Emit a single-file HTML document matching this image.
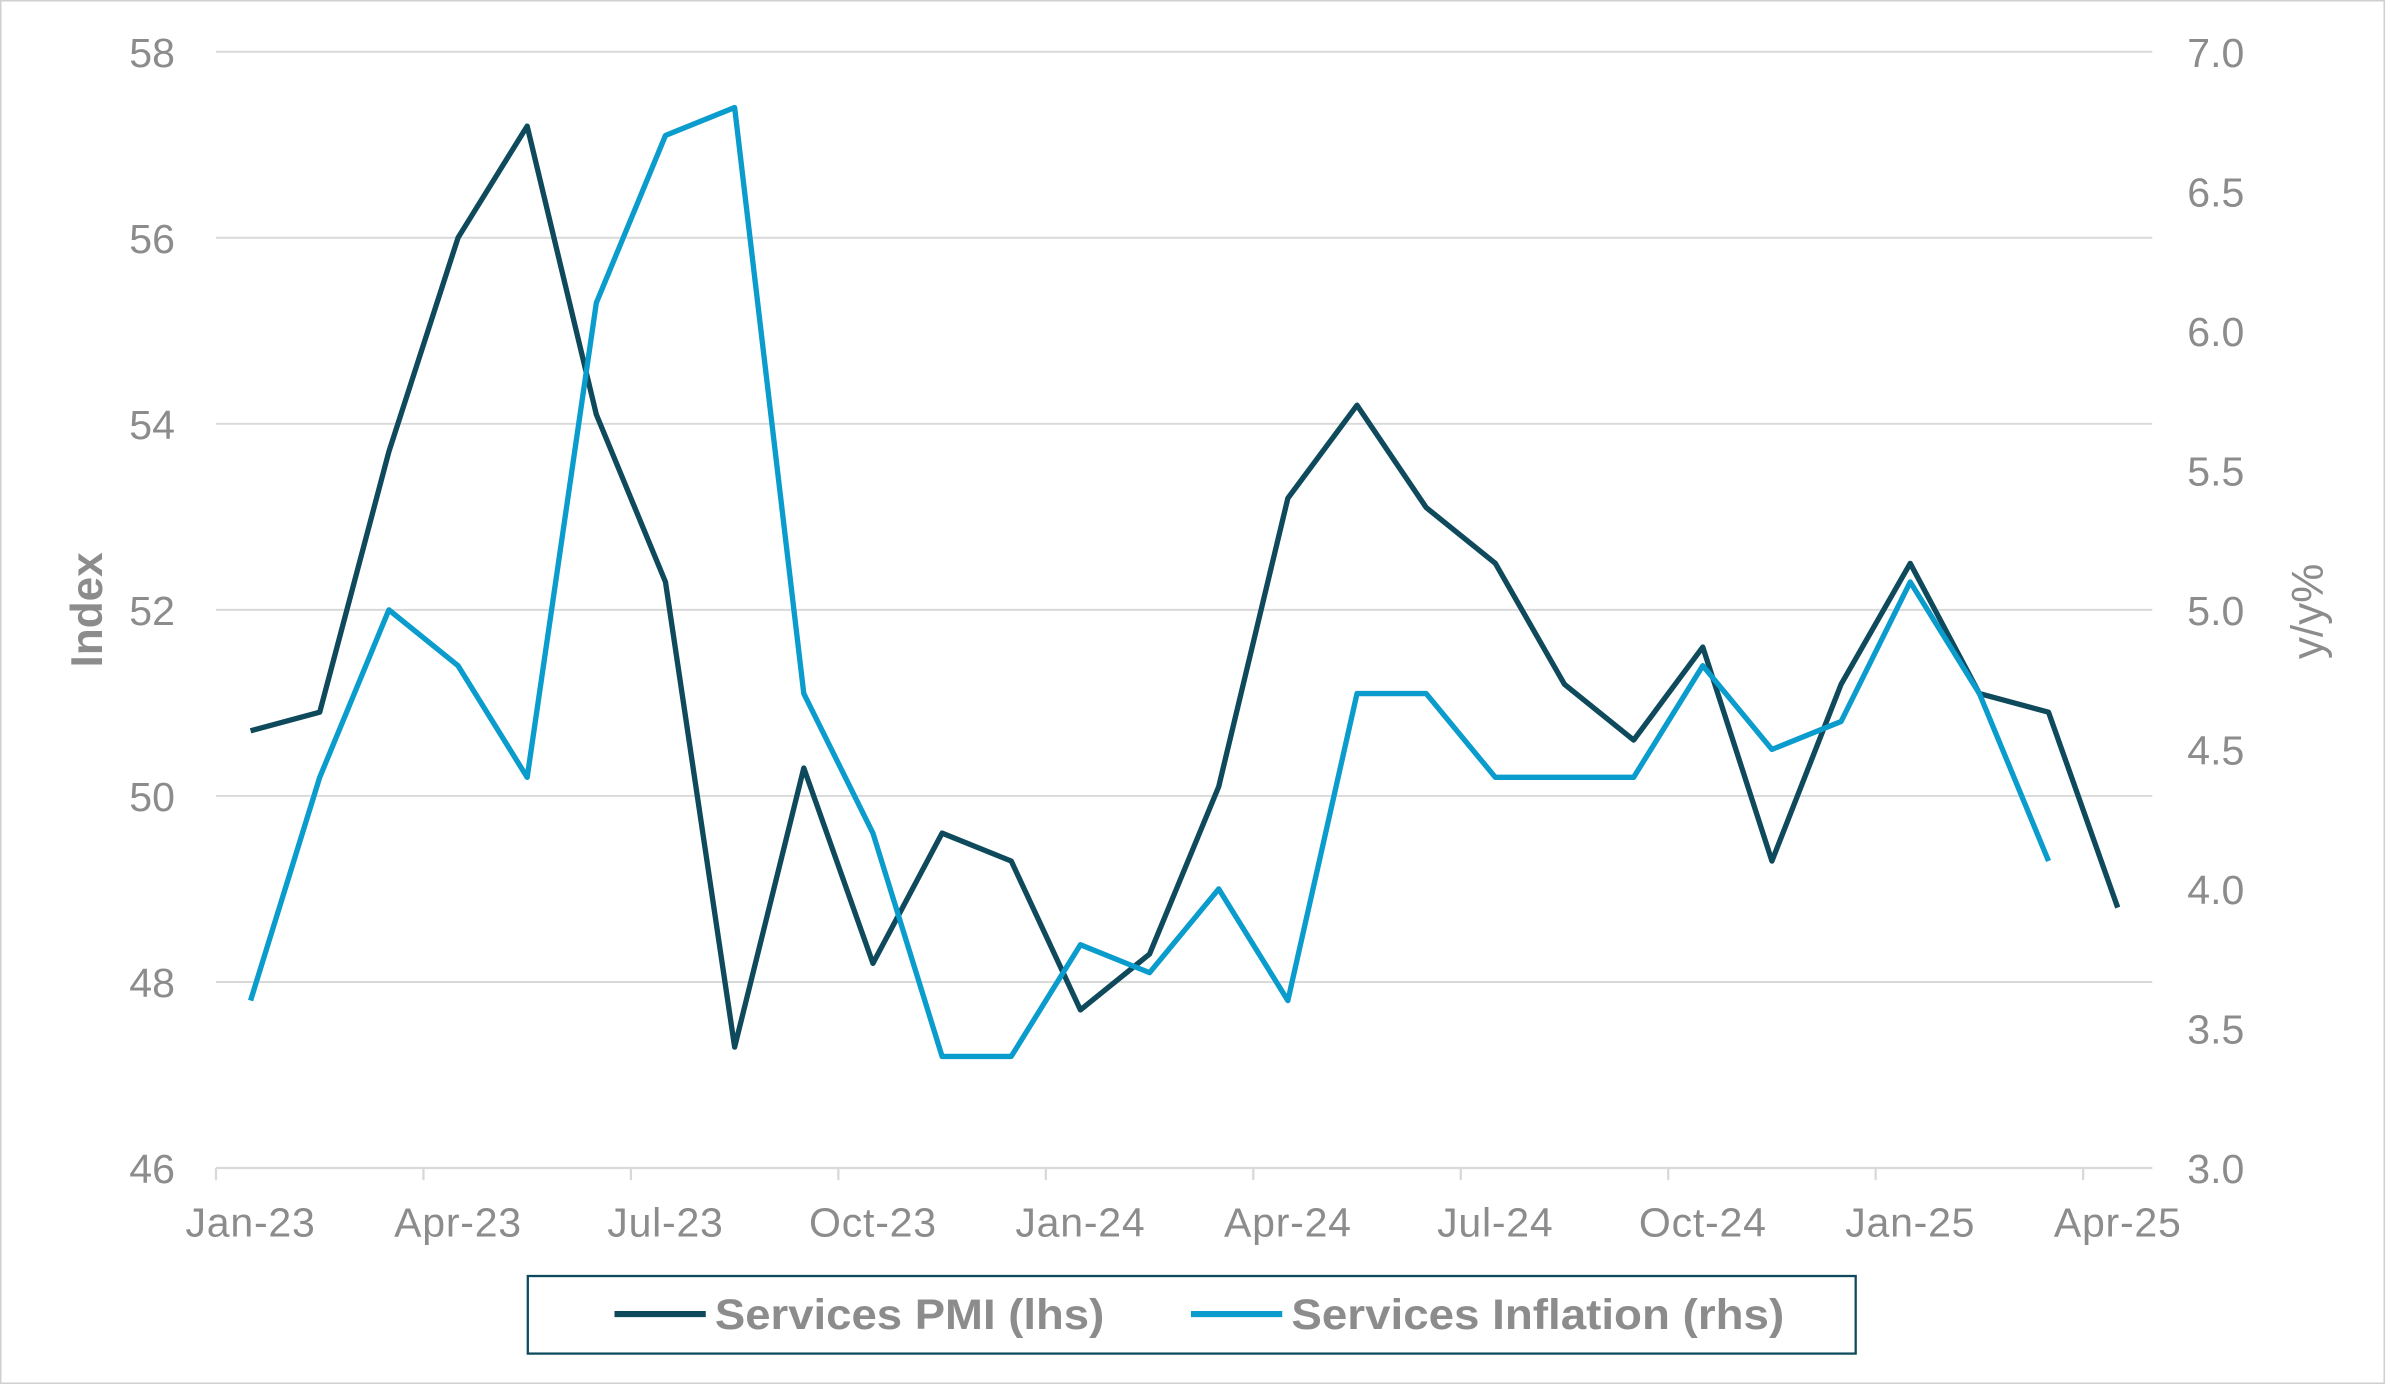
<!DOCTYPE html>
<html><head><meta charset="utf-8"><style>
html,body{margin:0;padding:0;background:#fff;}
svg{display:block;font-family:"Liberation Sans",Arial,sans-serif;}
</style></head><body>
<svg id="chart" width="2385" height="1384" viewBox="0 0 1568 910" preserveAspectRatio="none" xmlns="http://www.w3.org/2000/svg">
<rect x="0.5" y="0.5" width="1567" height="909" fill="#fff" stroke="#d0d0d0"/>
<g id="grid"></g><g id="axes"></g><g id="series"></g>
<text x="67" y="401" transform="rotate(-90 67 401)" text-anchor="middle" font-size="29" font-weight="bold" fill="#8c8c8c">Index</text>
<text x="1527" y="402" transform="rotate(-90 1527 402)" text-anchor="middle" font-size="29" fill="#8c8c8c">y/y%</text>
<g>
<rect x="347" y="839" width="873" height="51" fill="#fff" stroke="#0e4a5c" stroke-width="1.5"/>
<g><line x1="404" y1="864" x2="464" y2="864" stroke="#0e4a5c" stroke-width="4"/><text x="470" y="874" font-size="28" font-weight="bold" fill="#8c8c8c" textLength="256" lengthAdjust="spacingAndGlyphs">Services PMI (lhs)</text></g>
<g><line x1="783" y1="864" x2="843" y2="864" stroke="#0a9ccc" stroke-width="4"/><text x="849" y="874" font-size="28" font-weight="bold" fill="#8c8c8c" textLength="324" lengthAdjust="spacingAndGlyphs">Services Inflation (rhs)</text></g>
</g>
</svg>
<script>
const months=["Jan-23","Feb-23","Mar-23","Apr-23","May-23","Jun-23","Jul-23","Aug-23","Sep-23","Oct-23","Nov-23","Dec-23","Jan-24","Feb-24","Mar-24","Apr-24","May-24","Jun-24","Jul-24","Aug-24","Sep-24","Oct-24","Nov-24","Dec-24","Jan-25","Feb-25","Mar-25","Apr-25"];
const pmiValues=[50.7,50.9,53.7,56.0,57.2,54.1,52.3,47.3,50.3,48.2,49.6,49.3,47.7,48.3,50.1,53.2,54.2,53.1,52.5,51.2,50.6,51.6,49.3,51.2,52.5,51.1,50.9,48.8];
const inflationValues=[3.6,4.4,5.0,4.8,4.4,6.1,6.7,6.8,4.7,4.2,3.4,3.4,3.8,3.7,4.0,3.6,4.7,4.7,4.4,4.4,4.4,4.8,4.5,4.6,5.1,4.7,4.1];
const leftTicks=[46,48,50,52,54,56,58];
const rightTicks=["3.0","3.5","4.0","4.5","5.0","5.5","6.0","6.5","7.0"];
const NS="http://www.w3.org/2000/svg";
const X0=142,X1=1415,YT=34,YB=768;
const step=(X1-X0)/months.length;
const xPos=i=>X0+step*(i+0.5);
const yL=v=>YB-(v-46)/(58-46)*(YB-YT);
const yR=v=>YB-(v-3)/(7-3)*(YB-YT);
function mk(tag,attrs,parent){const e=document.createElementNS(NS,tag);for(const k in attrs)e.setAttribute(k,attrs[k]);parent.appendChild(e);return e;}
const grid=document.getElementById('grid'),axes=document.getElementById('axes'),ser=document.getElementById('series');
leftTicks.forEach(v=>{
 const l=mk('line',{x1:X0,x2:X1,y1:yL(v),y2:yL(v),stroke:'#d9d9d9','stroke-width':1.3},grid);
 
 
 const t=mk('text',{x:115,y:yL(v)+10,'text-anchor':'end','font-size':27,fill:'#8c8c8c'},axes);t.textContent=v;
 
 
});
rightTicks.forEach(s=>{
 const t=mk('text',{x:1438,y:yR(parseFloat(s))+10,'font-size':27,fill:'#8c8c8c'},axes);t.textContent=s;
 
 
});
const base=mk('line',{x1:X0,x2:X1,y1:YB,y2:YB,stroke:'#d9d9d9','stroke-width':1.5},axes);


for(let i=0;i<months.length;i++){
 if(i%3===0){
  const tk=mk('line',{x1:X0+step*i,x2:X0+step*i,y1:YB,y2:YB+8,stroke:'#d9d9d9','stroke-width':1.5},axes);
  
  
  const t=mk('text',{x:xPos(i),y:813,'text-anchor':'middle','font-size':27,fill:'#8c8c8c','letter-spacing':0.5},axes);t.textContent=months[i];
  
  
 }
}
const p1=mk('polyline',{points:pmiValues.map((v,i)=>xPos(i)+','+yL(v)).join(' '),fill:'none',stroke:'#0e4a5c','stroke-width':3.5,'stroke-linejoin':'round'},ser);


const p2=mk('polyline',{points:inflationValues.map((v,i)=>xPos(i)+','+yR(v)).join(' '),fill:'none',stroke:'#0a9ccc','stroke-width':3.5,'stroke-linejoin':'round'},ser);


</script>
</body></html>
